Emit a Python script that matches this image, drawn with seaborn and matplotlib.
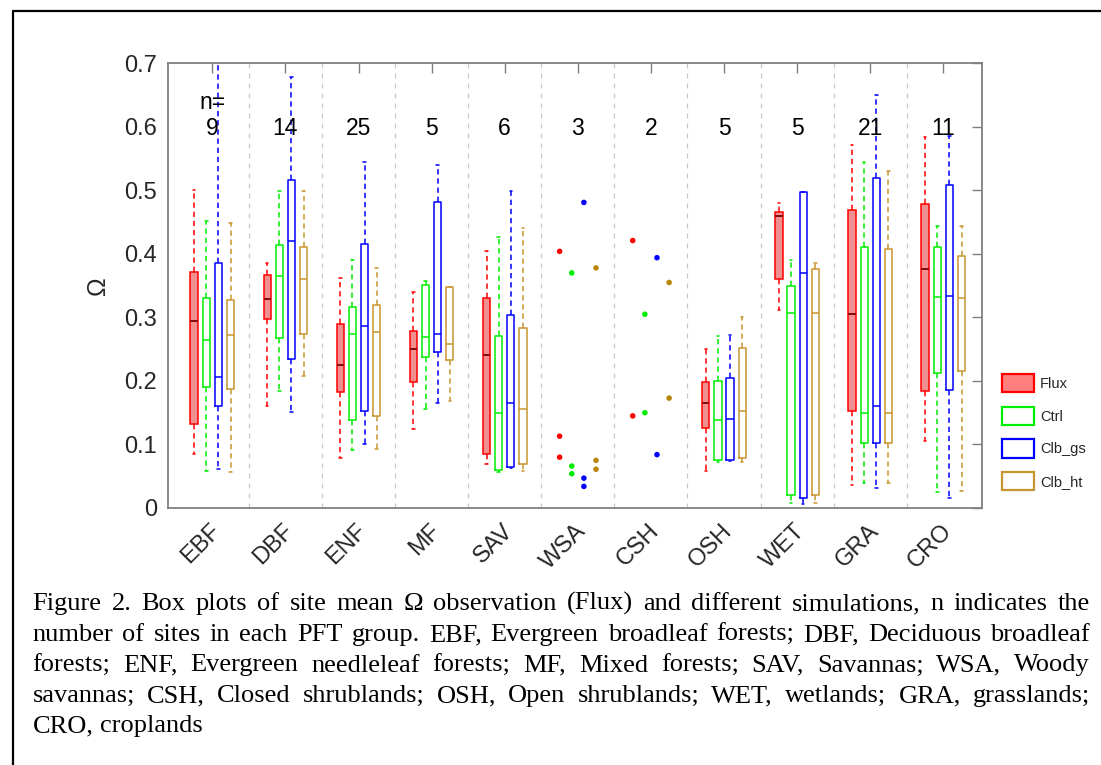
import numpy as np
import pandas as pd
import matplotlib
matplotlib.use("Agg")
import matplotlib.pyplot as plt
from matplotlib.patches import Patch
from matplotlib.lines import Line2D
from matplotlib.transforms import ScaledTranslation
import seaborn as sns

# ---------------- data ----------------
categories = ["EBF", "DBF", "ENF", "MF", "SAV", "WSA", "CSH", "OSH", "WET", "GRA", "CRO"]
site_counts = [9, 14, 25, 5, 6, 3, 2, 5, 5, 21, 11]
series = ["Flux", "Ctrl", "Clb_gs", "Clb_ht"]

# five-number summaries (lower whisker, Q1, median, Q3, upper whisker)
box_groups = ["EBF", "DBF", "ENF", "MF", "SAV", "OSH", "WET", "GRA", "CRO"]
flux_box = [
    (0.085, 0.133, 0.295, 0.371, 0.501),
    (0.160, 0.297, 0.329, 0.366, 0.385),
    (0.079, 0.182, 0.225, 0.289, 0.362),
    (0.125, 0.199, 0.250, 0.279, 0.340),
    (0.069, 0.085, 0.241, 0.331, 0.405),
    (0.058, 0.126, 0.166, 0.198, 0.251),
    (0.311, 0.360, 0.460, 0.466, 0.480),
    (0.036, 0.152, 0.306, 0.469, 0.571),
    (0.106, 0.184, 0.376, 0.479, 0.584),
]
ctrl_box = [
    (0.058, 0.190, 0.264, 0.331, 0.451),
    (0.184, 0.268, 0.365, 0.414, 0.499),
    (0.091, 0.139, 0.274, 0.317, 0.390),
    (0.156, 0.237, 0.269, 0.351, 0.358),
    (0.057, 0.060, 0.149, 0.270, 0.426),
    (0.073, 0.076, 0.139, 0.200, 0.270),
    (0.008, 0.021, 0.307, 0.350, 0.390),
    (0.039, 0.102, 0.149, 0.411, 0.545),
    (0.025, 0.212, 0.332, 0.411, 0.444),
]
gs_box = [
    (0.061, 0.160, 0.206, 0.385, 0.720),
    (0.151, 0.235, 0.421, 0.517, 0.679),
    (0.101, 0.153, 0.287, 0.416, 0.544),
    (0.166, 0.246, 0.274, 0.482, 0.540),
    (0.063, 0.064, 0.166, 0.304, 0.499),
    (0.074, 0.075, 0.140, 0.204, 0.272),
    (0.006, 0.015, 0.370, 0.498, 0.498),
    (0.031, 0.103, 0.160, 0.519, 0.650),
    (0.015, 0.186, 0.333, 0.508, 0.586),
]
ht_box = [
    (0.056, 0.187, 0.272, 0.327, 0.448),
    (0.207, 0.274, 0.360, 0.411, 0.499),
    (0.093, 0.145, 0.277, 0.319, 0.378),
    (0.169, 0.233, 0.258, 0.348, 0.348),
    (0.059, 0.069, 0.156, 0.284, 0.440),
    (0.073, 0.079, 0.152, 0.252, 0.301),
    (0.008, 0.020, 0.307, 0.376, 0.385),
    (0.040, 0.103, 0.149, 0.407, 0.530),
    (0.027, 0.216, 0.330, 0.396, 0.444),
]
# individual site values for the small groups
flux_pts = {"WSA": [0.404, 0.113, 0.080], "CSH": [0.421, 0.145]}
ctrl_pts = {"WSA": [0.370, 0.066, 0.054], "CSH": [0.305, 0.150]}
gs_pts = {"WSA": [0.481, 0.047, 0.034], "CSH": [0.394, 0.084]}
ht_pts = {"WSA": [0.378, 0.075, 0.061], "CSH": [0.355, 0.173]}

y_ticks = [0, 0.1, 0.2, 0.3, 0.4, 0.5, 0.6, 0.7]
y_ticklabels = ["0", "0.1", "0.2", "0.3", "0.4", "0.5", "0.6", "0.7"]

caption_lines = [
    "Figure 2. Box plots of site mean \u03a9 observation (Flux) and different simulations, n indicates the",
    "number of sites in each PFT group. EBF, Evergreen broadleaf forests; DBF, Deciduous broadleaf",
    "forests; ENF, Evergreen needleleaf forests; MF, Mixed forests; SAV, Savannas; WSA, Woody",
    "savannas; CSH, Closed shrublands; OSH, Open shrublands; WET, wetlands; GRA, grasslands;",
    "CRO, croplands",
]

# ---------------- tables ----------------
rows = []
for name, boxes in zip(series, [flux_box, ctrl_box, gs_box, ht_box]):
    for grp, stats in zip(box_groups, boxes):
        for v in stats:
            rows.append({"pft": grp, "series": name, "omega": v})
box_df = pd.DataFrame(rows)

group_width = 0.664
hue_offsets = (np.arange(len(series)) - (len(series) - 1) / 2) * group_width / len(series)
prow = []
for si, (name, pts) in enumerate(zip(series, [flux_pts, ctrl_pts, gs_pts, ht_pts])):
    for grp, vals in pts.items():
        for v in vals:
            prow.append({"xpos": categories.index(grp) + hue_offsets[si], "series": name, "omega": v})
pts_df = pd.DataFrame(prow)

# ---------------- style ----------------
line_colors = {"Flux": "#ff0000", "Ctrl": "#00ee00", "Clb_gs": "#0000ff", "Clb_ht": "#c8962e"}
fill_colors = {"Flux": "#ff7f7f", "Ctrl": "white", "Clb_gs": "white", "Clb_ht": "white"}
point_colors = {"Flux": "#ff0000", "Ctrl": "#00ee00", "Clb_gs": "#0000ff", "Clb_ht": "#b8860b"}

sns.set_theme(style="white")
plt.rcParams["font.family"] = ["Liberation Sans", "DejaVu Sans"]

W, H = 1101, 765
fig = plt.figure(figsize=(W / 100, H / 100), dpi=100)
ax_l, ax_r, ax_t, ax_b = 168.3, 981.7, 63.3, 508.0
ax = fig.add_axes([ax_l / W, 1 - ax_b / H, (ax_r - ax_l) / W, (ax_b - ax_t) / H])

common = dict(x="pft", y="omega", hue="series", order=categories, hue_order=series,
              dodge=True, width=group_width, gap=0.4, whis=(0, 100), legend=False,
              linewidth=1.1, whiskerprops=dict(linestyle=(0, (3.5, 2.5))), capwidths=0.035,
              showfliers=False, ax=ax)

sns.boxplot(data=box_df[box_df.series == "Flux"], palette=fill_colors, fill=True,
            linecolor="#ff0000", medianprops=dict(color="#800000", linewidth=1.3), **common)
sns.boxplot(data=box_df[box_df.series != "Flux"], palette=line_colors, fill=False, **common)

sns.scatterplot(data=pts_df, x="xpos", y="omega", hue="series", hue_order=series,
                palette=point_colors, s=16, edgecolor="none", legend=False, ax=ax, zorder=5)

# separators between groups
for i in range(len(categories) - 1):
    ax.axvline(i + 0.5, color="#c8c8c8", lw=0.9, linestyle=(0, (4, 4)), zorder=0)

ax.set_xlim(-0.602, 10.525)
ax.set_ylim(0, 0.7)
ax.set_yticks(y_ticks)
ax.set_yticklabels(y_ticklabels)
ax.set_xticks(range(len(categories)))
ax.set_xticklabels(categories, rotation=45, ha="right", va="center", rotation_mode="anchor")
ax.tick_params(axis="both", which="both", direction="in", length=7, width=1.0,
               color="#7f7f7f", top=True, right=True, labelsize=17, labelcolor="#262626")
ax.tick_params(axis="x", pad=14)
ax.tick_params(axis="y", pad=8)
shift = ScaledTranslation(5 / 100, 0, fig.dpi_scale_trans)
for lab in ax.get_xticklabels():
    lab.set_transform(lab.get_transform() + shift)
for sp in ax.spines.values():
    sp.set_color("#808080")
    sp.set_linewidth(1.3)
ax.set_xlabel("")
ax.set_ylabel("\u03a9", fontsize=18, color="#262626", rotation=90)
ax.yaxis.set_label_coords(-0.0717, 0.5)

# site counts
ax.text(0, 0.638, "n=", ha="center", va="center", fontsize=16.5, color="black")
for i, n in enumerate(site_counts):
    ax.text(i, 0.598, str(n), ha="center", va="center", fontsize=16.5, color="black")

# legend
handles = [Patch(facecolor=fill_colors[s], edgecolor=line_colors[s], linewidth=1.6, label=s)
           for s in series]
fig.legend(handles=handles, loc="upper left", bbox_to_anchor=(1002 / W, 1 - 374 / H),
           frameon=False, fontsize=10.5, handlelength=2.21, handleheight=1.56,
           labelspacing=0.98, handletextpad=0.41, borderpad=0, borderaxespad=0)

# figure border (left and top edges visible)
fig.add_artist(Line2D([12.5 / W, 12.5 / W], [0, 1 - 11 / H], transform=fig.transFigure,
                      color="black", lw=1.6))
fig.add_artist(Line2D([12.5 / W, 1.0], [1 - 11 / H, 1 - 11 / H], transform=fig.transFigure,
                      color="black", lw=1.6))

# justified caption
renderer = fig.canvas.get_renderer()
left_px, right_px = 32.5, 1090.0
baselines = [610, 641, 671.5, 702, 732]
cap_fs = 19
for li, (line, yb) in enumerate(zip(caption_lines, baselines)):
    words = line.split(" ")
    texts = [fig.text(0, 1 - yb / H, w, fontsize=cap_fs, family="Liberation Serif",
                      va="baseline", ha="left", color="black") for w in words]
    widths = [t.get_window_extent(renderer).width for t in texts]
    if li < len(caption_lines) - 1 and len(words) > 1:
        space = (right_px - left_px - sum(widths)) / (len(words) - 1)
    else:
        space = 0.25 * cap_fs * 100 / 72
    x = left_px
    for t, w in zip(texts, widths):
        t.set_x(x / W)
        x += w + space

fig.savefig("out.png", dpi=100)
